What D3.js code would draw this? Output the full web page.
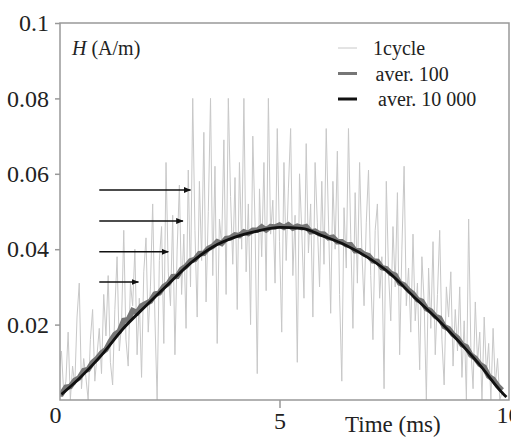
<!DOCTYPE html>
<html>
<head>
<meta charset="utf-8">
<script src="https://cdn.jsdelivr.net/npm/d3@7"></script>
<style>
body { margin: 0; background: #fff; }
text { font-family: "Liberation Serif", "Times New Roman", serif; fill: #222; }
</style>
</head>
<body>
<div id="graph"></div>
<script>
var w = 511, h = 440;

// time step of each sampled series (ms)
var cycleStep = 0.05;
var averStep = 0.1;

// 1cycle, one value every 0.05 ms from 0 to 10
var cycle = [
	0.000, 0.008, 0.013, 0.002, 0.005, 0.018, 0.000, 0.009, 0.004, 0.022, 0.031, 0.003, 0.011, 0.006, 0.000, 0.016, 0.024, 0.005, 0.012, 0.019,
	0.007, 0.028, 0.017, 0.033, 0.010, 0.004, 0.024, 0.038, 0.013, 0.020, 0.045, 0.016, 0.009, 0.031, 0.025, 0.040, 0.012, 0.027, 0.006, 0.034,
	0.043, 0.018, 0.030, 0.052, 0.022, 0.000, 0.037, 0.046, 0.015, 0.063, 0.034, 0.025, 0.049, 0.012, 0.040, 0.057, 0.028, 0.044, 0.019, 0.061,
	0.030, 0.080, 0.045, 0.022, 0.058, 0.037, 0.071, 0.026, 0.050, 0.080, 0.033, 0.062, 0.015, 0.048, 0.041, 0.069, 0.028, 0.080, 0.054, 0.036,
	0.059, 0.024, 0.063, 0.040, 0.080, 0.034, 0.052, 0.020, 0.070, 0.047, 0.007, 0.056, 0.038, 0.063, 0.029, 0.080, 0.044, 0.053, 0.031, 0.072,
	0.042, 0.018, 0.063, 0.037, 0.056, 0.072, 0.033, 0.049, 0.010, 0.060, 0.045, 0.027, 0.068, 0.039, 0.052, 0.022, 0.063, 0.047, 0.030, 0.058,
	0.036, 0.072, 0.048, 0.023, 0.058, 0.040, 0.066, 0.028, 0.005, 0.051, 0.035, 0.072, 0.044, 0.019, 0.055, 0.031, 0.063, 0.040, 0.025, 0.047,
	0.061, 0.033, 0.016, 0.045, 0.052, 0.027, 0.038, 0.003, 0.058, 0.034, 0.021, 0.046, 0.030, 0.055, 0.012, 0.040, 0.062, 0.025, 0.035, 0.018,
	0.044, 0.021, 0.031, 0.008, 0.038, 0.026, 0.000, 0.035, 0.019, 0.042, 0.012, 0.028, 0.045, 0.016, 0.004, 0.030, 0.022, 0.034, 0.009, 0.024,
	0.013, 0.030, 0.006, 0.021, 0.000, 0.048, 0.014, 0.003, 0.026, 0.010, 0.018, 0.000, 0.022, 0.007, 0.015, 0.000, 0.019, 0.004, 0.011, 0.000,
	0.002
];

// aver. 100, one value every 0.1 ms from 0 to 10
var aver100 = [
	0.0016,
	0.0016, 0.0034, 0.0036, 0.0052, 0.0059, 0.0078, 0.0081, 0.0100, 0.0110, 0.0125,
	0.0134, 0.0156, 0.0174, 0.0182, 0.0211, 0.0213, 0.0237, 0.0232, 0.0250, 0.0256,
	0.0262, 0.0281, 0.0284, 0.0301, 0.0309, 0.0327, 0.0328, 0.0347, 0.0355, 0.0369,
	0.0373, 0.0388, 0.0389, 0.0402, 0.0408, 0.0420, 0.0415, 0.0428, 0.0430, 0.0438,
	0.0436, 0.0446, 0.0442, 0.0450, 0.0450, 0.0459, 0.0451, 0.0460, 0.0459, 0.0464,
	0.0458, 0.0465, 0.0456, 0.0461, 0.0457, 0.0460, 0.0446, 0.0448, 0.0441, 0.0440,
	0.0430, 0.0432, 0.0420, 0.0420, 0.0412, 0.0412, 0.0396, 0.0396, 0.0387, 0.0383,
	0.0369, 0.0368, 0.0351, 0.0348, 0.0336, 0.0331, 0.0310, 0.0305, 0.0291, 0.0282,
	0.0266, 0.0262, 0.0242, 0.0236, 0.0222, 0.0217, 0.0195, 0.0189, 0.0174, 0.0165,
	0.0147, 0.0141, 0.0119, 0.0111, 0.0095, 0.0087, 0.0063, 0.0055, 0.0038, 0.0026
];

// aver. 10 000, smooth curve
var aver10kT = [0.1, 0.5, 1, 1.5, 2, 2.5, 3, 3.5, 4, 4.5, 5, 5.5, 6, 6.5, 7, 7.5, 8, 8.5, 9, 9.5, 10, 10.1];
var aver10kH = [0.0015, 0.0057, 0.0119, 0.0191, 0.0250, 0.0307, 0.0363, 0.0406, 0.0432, 0.0448, 0.0458, 0.0455, 0.0434, 0.0410, 0.0377, 0.0334, 0.0276, 0.0220, 0.0159, 0.0093, 0.0020, 0.0008];

// arrows: height and start / end time
var arrowH = [0.0557, 0.0475, 0.0393, 0.0313];
var arrowFrom = [0.95, 0.95, 0.95, 0.95];
var arrowTo = [3.0, 2.83, 2.5, 1.83];

var xTicks = [0, 5, 10];
var yTicks = [0.02, 0.04, 0.06, 0.08, 0.1];

var legendNames = ["1cycle", "aver. 100", "aver. 10 000"];

var serif = "'Liberation Serif', 'Times New Roman', serif";

var svg = d3.select("#graph")
	.append("svg")
	.attr("width", w)
	.attr("height", h);

var pLeft = 60, pRight = 509, pTop = 23, pBottom = 400;

var x = d3.scaleLinear().domain([0, 10]).range([57, 502]);
var y = d3.scaleLinear().domain([0, 0.1]).range([pBottom, pTop]);

svg.append("clipPath").attr("id", "clip")
	.append("rect")
	.attr("x", pLeft).attr("y", pTop)
	.attr("width", pRight - pLeft).attr("height", pBottom - pTop);

var plot = svg.append("g").attr("clip-path", "url(#clip)");

var line = d3.line()
	.x(function(d) { return x(d[0]); })
	.y(function(d) { return y(d[1]); });

var cycleData = cycle.map(function(v, i) { return [i * cycleStep, v]; });
var averData = aver100.map(function(v, i) { return [i * averStep, v]; });
var smoothData = aver10kT.map(function(t, i) { return [t, aver10kH[i]]; });

plot.append("path")
	.attr("d", line(cycleData))
	.attr("fill", "none")
	.attr("stroke", "#c8c8c8")
	.attr("stroke-width", 1);

plot.append("path")
	.attr("d", line(averData))
	.attr("fill", "none")
	.attr("stroke", "#767676")
	.attr("stroke-width", 5.5);

plot.append("path")
	.attr("d", line.curve(d3.curveMonotoneX)(smoothData))
	.attr("fill", "none")
	.attr("stroke", "#111")
	.attr("stroke-width", 2.8);

// frame
svg.append("rect")
	.attr("x", pLeft).attr("y", pTop)
	.attr("width", pRight - pLeft).attr("height", pBottom - pTop)
	.attr("fill", "none")
	.attr("stroke", "#999")
	.attr("stroke-width", 1.5);

// y axis
var yAxis = svg.append("g")
	.attr("transform", "translate(" + pLeft + ",0)")
	.call(d3.axisLeft(y).tickValues(yTicks).tickSize(5).tickPadding(6)
		.tickFormat(function(d) { return d == 0.1 ? "0.1" : d3.format(".2f")(d); }));
yAxis.select(".domain").remove();
yAxis.selectAll("line").attr("stroke", "#999").attr("stroke-width", 1.5);
yAxis.selectAll("text").attr("font-size", 24).style("font-family", serif).attr("fill", "#222");

// x axis
var xAxis = svg.append("g")
	.attr("transform", "translate(0," + pBottom + ")")
	.call(d3.axisBottom(x).tickValues(xTicks).tickSize(8).tickPadding(4));
xAxis.select(".domain").remove();
xAxis.selectAll("line").attr("stroke", function(d) { return d == 5 ? "#999" : "none"; }).attr("stroke-width", 1.5);
xAxis.selectAll("text").attr("font-size", 24).style("font-family", serif).attr("fill", "#222")
	.attr("dx", function(d) { return d == 10 ? 6 : (d == 0 ? -2 : 0); })
	.attr("dy", function(d) { return d == 5 ? "0.71em" : "0.45em"; });

svg.append("text")
	.attr("x", 345).attr("y", 432)
	.attr("font-size", 23)
	.text("Time (ms)");

var ylab = svg.append("text")
	.attr("x", 72).attr("y", 55)
	.attr("font-size", 20);
ylab.append("tspan").attr("font-style", "italic").text("H");
ylab.append("tspan").text(" (A/m)");

// arrows
svg.append("defs").append("marker")
	.attr("id", "head")
	.attr("viewBox", "0 0 10 10")
	.attr("refX", 9).attr("refY", 5)
	.attr("markerWidth", 5).attr("markerHeight", 5)
	.attr("orient", "auto")
	.append("path")
	.attr("d", "M0,1L10,5L0,9Z")
	.attr("fill", "#111");

svg.selectAll(".arrow")
	.data(arrowH)
	.enter().append("line")
	.attr("class", "arrow")
	.attr("x1", function(d, i) { return x(arrowFrom[i]); })
	.attr("x2", function(d, i) { return x(arrowTo[i]); })
	.attr("y1", function(d) { return y(d); })
	.attr("y2", function(d) { return y(d); })
	.attr("stroke", "#111")
	.attr("stroke-width", 1.5)
	.attr("marker-end", "url(#head)");

// legend
var legColors = ["#c8c8c8", "#767676", "#111"];
var legWidths = [1, 3, 3];
var leg = svg.selectAll(".leg")
	.data(legendNames)
	.enter().append("g")
	.attr("class", "leg")
	.attr("transform", function(d, i) { return "translate(338," + (48 + i * 25.5) + ")"; });

leg.append("line")
	.attr("x1", 0).attr("x2", 19)
	.attr("stroke", function(d, i) { return legColors[i]; })
	.attr("stroke-width", function(d, i) { return legWidths[i]; });

leg.append("text")
	.attr("x", function(d, i) { return 35 + i * 2.5; })
	.attr("y", 7)
	.attr("font-size", 20)
	.text(function(d) { return d; });
</script>
</body>
</html>
